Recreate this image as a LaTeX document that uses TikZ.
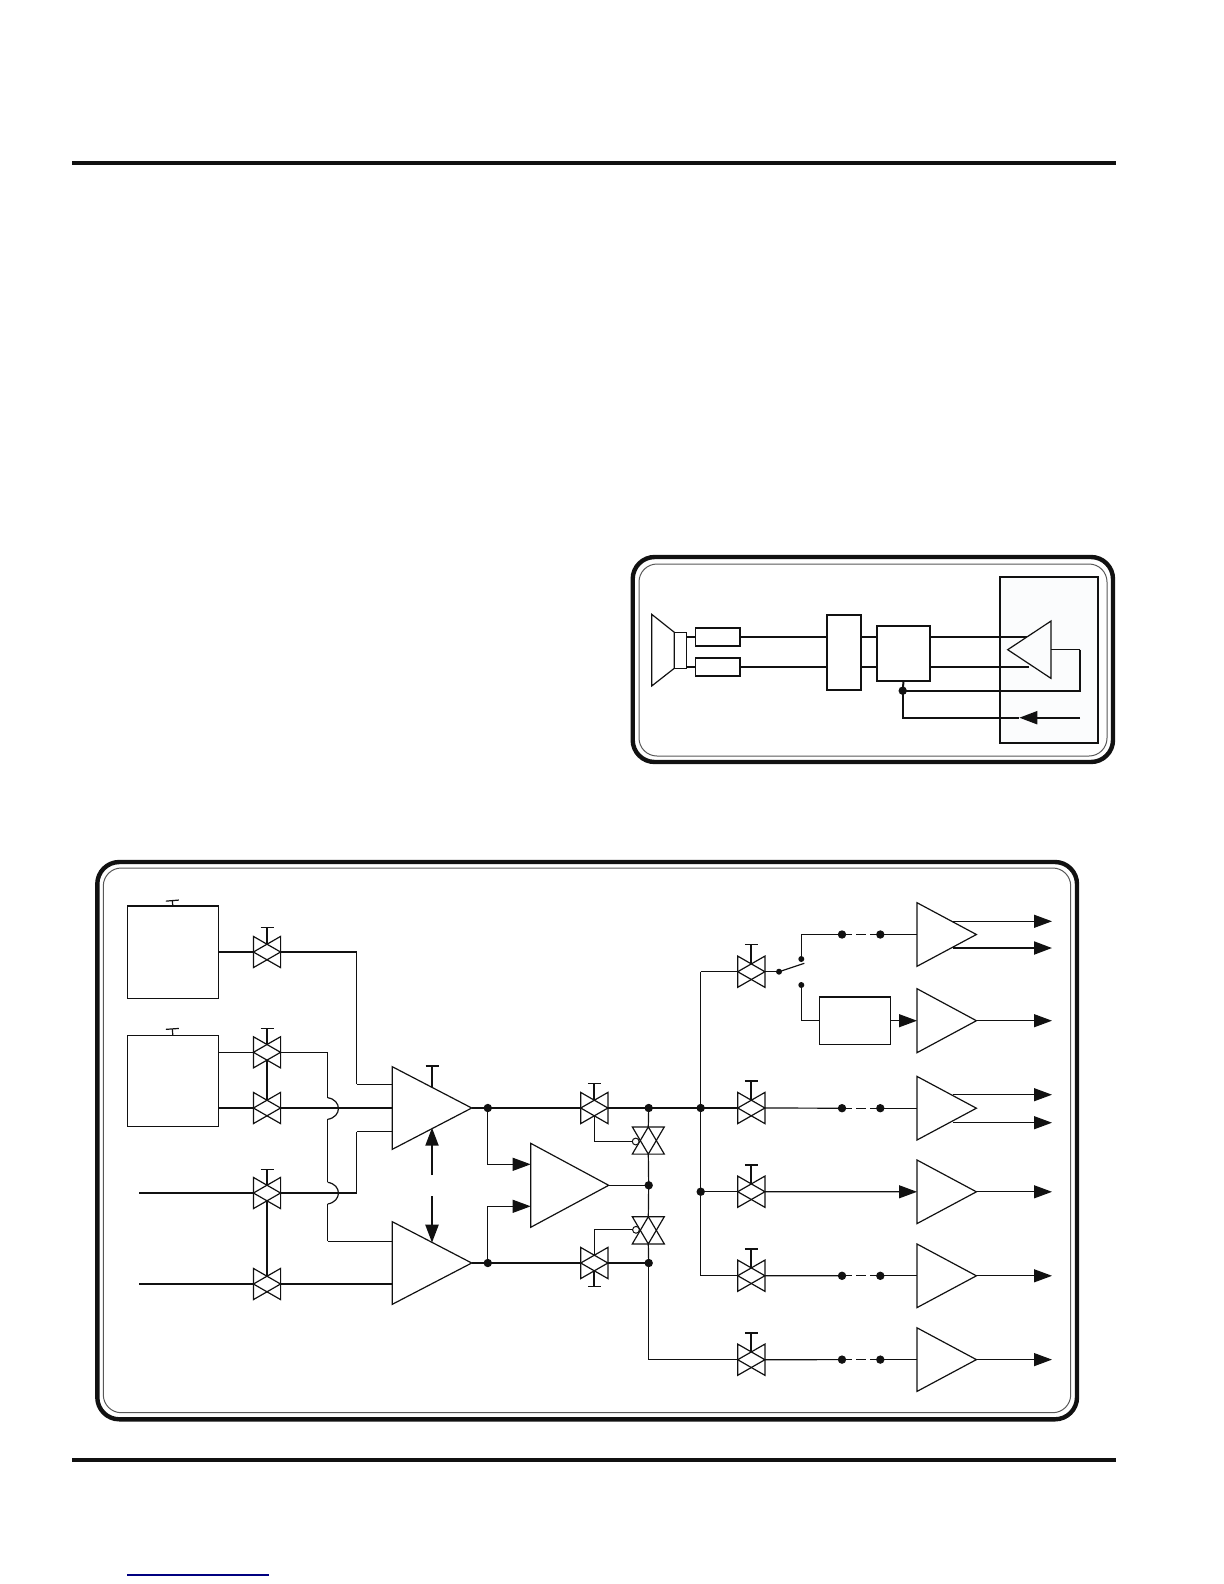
\documentclass[tikz,border=0pt]{standalone}
\usepackage{xcolor}
\usepackage{tikz}
\usetikzlibrary{arrows.meta}
\definecolor{inklight}{HTML}{FBFCFD}
\definecolor{inkline}{HTML}{111111}
\tikzset{
  wire/.style={draw=inkline,line width=.6pt},
  heavywire/.style={draw=inkline,line width=1pt},
  rule/.style={draw=inkline,line width=2pt},
  outerframe/.style={draw=inkline,line width=2.2pt,rounded corners=11pt},
  innerframe/.style={draw=inkline!70,line width=.5pt,rounded corners=9pt},
  shapebox/.style={minimum width=#1,inner sep=0pt,outer sep=0pt},
  block/.style={draw=inkline,line width=.65pt,inner sep=0pt,outer sep=0pt,fill=white},
  panelblock/.style={block,line width=.85pt},
  dot/.style={circle,fill=inkline,inner sep=0pt,outer sep=0pt,minimum size=4.2pt},
  smalldot/.style={circle,fill=inkline,inner sep=0pt,outer sep=0pt,minimum size=3pt},
  bubble/.style={circle,draw=inkline,fill=white,line width=.5pt,inner sep=0pt,outer sep=0pt,minimum size=3.4pt},
  headed/.style={-{Triangle[length=9pt,width=6.5pt]}},
  gatebar/.style={-{Bar[width=6.5pt,line width=.6pt]}},
  jumpdash/.style={dash pattern=on 4.75pt off 2.25pt}
}
\begin{document}
\begin{tikzpicture}[x=.5pt,y=-.5pt]
\useasboundingbox (0,0) rectangle (1224,1584);
\node[shapebox=1pt] (RuleTopA) at (72,162.6){}; \node[shapebox=1pt] (RuleTopB) at (1116,162.6){}; \draw[rule] (RuleTopA.center) -- (RuleTopB.center);
\node[shapebox=1pt] (RuleBotA) at (72,1460){}; \node[shapebox=1pt] (RuleBotB) at (1116,1460){}; \draw[rule] (RuleBotA.center) -- (RuleBotB.center);
\node[shapebox=1pt] (LinkA) at (127,1575){}; \node[shapebox=1pt] (LinkB) at (269,1575){}; \draw[draw=blue!50!black,line width=.6pt] (LinkA.center) -- (LinkB.center);
\draw[outerframe] (632.7,557) rectangle (1113,762);
\draw[innerframe] (639,564) rectangle (1107,756);
\draw[draw=inkline,line width=.9pt,fill=inklight] (1000,577) rectangle (1097.7,743);
\node[block,minimum width=6.2pt,minimum height=18pt] (Magnet) at (680.5,650.3){};
\draw[wire] (651.7,614.3) -- (Magnet.north west) -- (Magnet.south west) -- (651.7,686) -- cycle;
\node[panelblock,minimum width=22.2pt,minimum height=9pt] (ResA) at (717.8,637.3){};
\node[panelblock,minimum width=22.2pt,minimum height=9pt] (ResB) at (717.8,666.8){};
\node[panelblock,minimum width=17pt,minimum height=37.4pt] (BoxMid) at (843.7,652.6){};
\node[panelblock,minimum width=26.8pt,minimum height=27.5pt] (BoxAmp) at (903.5,653.7){};
\node[shapebox=21.6pt,minimum height=28.6pt] (SpkAmp) at (1029.3,649.7){};
\foreach \n in {ResA,ResB}\draw[heavywire] (\n -| Magnet.east) -- (\n.west);
\foreach \n in {ResA,ResB}\draw[heavywire] (\n.east) -- (\n -| BoxMid.west);
\foreach \n in {ResA,ResB}\draw[heavywire] (\n -| BoxMid.east) -- (\n -| BoxAmp.west);
\foreach \n in {ResA,ResB}\draw[heavywire] (\n -| BoxAmp.east) -- (\n -| SpkAmp.center);
\draw[wire,fill=inklight] (SpkAmp.north east) -- (SpkAmp.west) -- (SpkAmp.south east) -- cycle;
\node[dot] (DotS) at (902.7,690.7){};
\coordinate (SenseCorner) at (1080,649.7);
\coordinate (SenseEnd) at (1080,717.7);
\coordinate (SenseTip) at (1019.3,717.7);
\draw[wire] (SpkAmp.east) -- (SenseCorner);
\draw[heavywire] (SenseCorner) |- (DotS.center);
\draw[heavywire] (BoxAmp.south) -- (DotS.center);
\draw[heavywire] (DotS.center) |- (SenseTip);
\draw[heavywire,headed] (SenseEnd) -- (SenseTip);
\draw[outerframe] (97.3,862) rectangle (1077,1419.3);
\draw[innerframe] (103.3,868) rectangle (1070.7,1412.7);
\node[block,minimum width=45.5pt,minimum height=46.2pt] (BoxA) at (172.8,952.1){};
\node[block,minimum width=45.5pt,minimum height=45.5pt] (BoxB) at (172.8,1080.8){};
\node[block,minimum width=35.7pt,minimum height=23.7pt] (BoxC) at (855,1020.7){};
\foreach \n in {BoxA,BoxC}\draw[heavywire] (\n.north west) -- (\n.north east);
\coordinate (BoxATop) at (172.3,900); \coordinate (BoxBTop) at (172.3,1028.3);
\draw[wire,gatebar] (BoxA.north) -- (BoxATop);
\draw[wire,gatebar] (BoxB.north) -- (BoxBTop);
\foreach \n/\x/\y in {ValveA/267/952,ValveB/267/1052.3,ValveC/267/1108,ValveD/267/1193,ValveE/267/1284,ValveF/594.3/1108,ValveG/594.3/1263,ValveH/751.3/971.7,ValveI/751.3/1108,ValveJ/751.3/1191.7,ValveK/751.3/1275.7,ValveL/751.3/1359.7}{
\node[shapebox=13.6pt,minimum height=15.6pt] (\n) at (\x,\y){};
\coordinate (\n Top) at (\x,\y-7.8); \coordinate (\n Bot) at (\x,\y+7.8);
\draw[wire] (\n.north west) -- (\n.east) -- (\n.south west) -- cycle;
\draw[wire] (\n.north east) -- (\n.west) -- (\n.south east) -- cycle;
}
\foreach \n/\w/\l in {ValveA/.6/17,ValveB/.6/17,ValveD/.6/16,ValveF/1/17,ValveH/1/19.7,ValveI/1/19.9,ValveJ/1/19.6,ValveK/1/19.6,ValveL/1/19.6}\draw[line width=\w pt,draw=inkline,gatebar] (\n Top) -- ++(0,-\l);
\draw[line width=1pt,draw=inkline,gatebar] (ValveGBot) -- ++(0,16);
\draw[wire] (ValveBBot) -- (ValveCTop);
\draw[wire] (ValveDBot) -- (ValveETop);
\foreach \n/\x/\y/\w/\h in {AmpA/392.3/1108/39.7/41.3,AmpB/392.3/1263/39.7/41.3,AmpC/530.7/1185.3/39/42,AmpH/917/934.5/29.7/31.8,AmpX/917/1020.7/29.7/32,AmpI/917/1108.2/29.7/31.8,AmpJ/917/1191.8/29.7/31.8,AmpK/917/1275.8/29.7/31.8,AmpL/917/1359.6/29.7/31.8}{
\node[shapebox=\w pt,minimum height=\h pt,anchor=west] (\n) at (\x,\y){};
\draw[wire] (\n.north west) -- (\n.east) -- (\n.south west) -- cycle;
}
\coordinate (InFree) at (139.3,0);
\coordinate (TapA) at (356.7,1084.3); \coordinate (TapB) at (356.7,1131.7);
\draw[wire] (BoxA.east |- ValveA) -- (ValveA.west);
\draw[wire] (ValveA.east) -| (TapA); \draw[wire] (TapA) -- (TapA -| AmpA.west);
\draw[wire] (BoxB.east |- ValveB) -- (ValveB.west);
\draw[wire] (BoxB.east |- ValveC) -- (ValveC.west);
\draw[wire] (ValveC.east) -- (ValveC -| AmpA.west);
\draw[wire] (InFree |- ValveD) -- (ValveD.west);
\draw[wire] (InFree |- ValveE) -- (ValveE.west);
\draw[wire] (ValveE.east) -- (ValveE -| AmpB.west);
\draw[wire] (ValveD.east) -| (TapB); \draw[wire] (TapB) -- (TapB -| AmpA.west);
\coordinate (HopAIn) at (327.7,1097.7); \coordinate (HopAOut) at (327.7,1119.3);
\coordinate (HopBIn) at (327.7,1182.3); \coordinate (HopBOut) at (327.7,1204);
\coordinate (HopEnd) at (327.7,1241.3);
\draw[wire] (ValveB.east) -| (HopAIn);
\draw[wire] (HopAIn) .. controls (342,1100) and (342,1117) .. (HopAOut);
\draw[wire] (HopAOut) -- (HopBIn);
\draw[wire] (HopBIn) .. controls (342,1184.5) and (342,1201.5) .. (HopBOut);
\draw[wire] (HopBOut) -- (HopEnd);
\draw[wire] (HopEnd) -- (HopEnd -| AmpB.west);
\coordinate (AmpAGate) at (432,1087.3); \coordinate (AmpABar) at (432,1065.3);
\draw[heavywire,gatebar] (AmpAGate) -- (AmpABar);
\coordinate (HoldUpA) at (432,1175); \coordinate (HoldUpB) at (432,1127.7);
\coordinate (HoldDnA) at (432,1196); \coordinate (HoldDnB) at (432,1242.7);
\draw[line width=1.1pt,draw=inkline,headed] (HoldUpA) -- (HoldUpB);
\draw[line width=1.1pt,draw=inkline,headed] (HoldDnA) -- (HoldDnB);
\foreach \n/\x/\y in {DotA/487.8/1108,DotB/487.8/1263,DotC/648.7/1108,DotD/648.7/1185.3,DotE/648.7/1263,DotF/700.7/1108,DotG/700.7/1191.7}\node[dot] (\n) at (\x,\y){};
\draw[wire] (AmpA.east) -- (DotA.center);
\draw[wire] (AmpB.east) -- (DotB.center);
\draw[wire] (DotA.center) -- (ValveF.west);
\draw[wire] (DotB.center) -- (ValveG.west);
\draw[wire] (ValveF.east) -- (DotC.center);
\draw[wire] (ValveG.east) -- (DotE.center);
\draw[wire] (DotC.center) -- (DotF.center);
\draw[wire] (DotF.center) -- (ValveI.west);
\draw[wire] (DotG.center) -- (ValveJ.west);
\coordinate (AmpCUp) at (530.7,1164.3); \coordinate (AmpCDn) at (530.7,1206.3);
\draw[wire,headed] (DotA.center) |- (AmpCUp);
\draw[wire,headed] (DotB.center) |- (AmpCDn);
\draw[wire] (AmpC.east) -- (DotD.center);
\foreach \n/\y in {GateA/1140.5,GateB/1230.3}{
\node[shapebox=16pt,minimum height=13.6pt] (\n) at (648.3,\y){};
\draw[wire] (\n.north west) -- (\n.north east) -- (\n.south) -- cycle;
\draw[wire] (\n.south west) -- (\n.south east) -- (\n.north) -- cycle;
}
\draw[wire] (DotC.center) -- (GateA.north);
\draw[wire] (GateA.south) -- (DotD.center);
\draw[wire] (DotD.center) -- (GateB.north);
\draw[wire] (GateB.south) -- (DotE.center);
\node[bubble] (BubbleA) at (635.7,1141.5){};
\node[bubble] (BubbleB) at (636,1229.8){};
\draw[wire] (ValveFBot) |- (BubbleA.west);
\draw[wire] (ValveGTop) |- (BubbleB.west);
\draw[wire] (DotE.center) |- (ValveL.west);
\coordinate (BusTop) at (700.7,971.7); \coordinate (BusBot) at (700.7,1275.7);
\draw[wire] (BusTop) -- (BusBot);
\draw[wire] (BusTop) -- (ValveH.west);
\draw[wire] (BusBot) -- (ValveK.west);
\foreach \n/\y in {H/934.5,I/1108.2,K/1275.8,L/1359.6}{
\node[dot] (Dash\n A) at (842,\y){};
\node[dot] (Dash\n B) at (880.3,\y){};
\draw[wire,jumpdash] (Dash\n A.center) -- (Dash\n B.center);
\draw[wire] (Dash\n B.center) -- (Amp\n.west);
}
\draw[wire] (ValveI.east) -- (DashIA.center);
\draw[wire] (ValveK.east) -- (DashKA.center);
\draw[wire] (ValveL.east) -- (DashLA.center);
\node[smalldot] (SwitchPole) at (779,971.7){};
\node[smalldot] (SwitchUp) at (801.3,959){};
\node[smalldot] (SwitchDn) at (801.3,985){};
\coordinate (SwitchArm) at (804.3,963.3);
\draw[wire] (ValveH.east) -- (SwitchPole.center);
\draw[wire] (SwitchPole.center) -- (SwitchArm);
\draw[wire] (SwitchUp.center) |- (DashHA.center);
\draw[wire] (SwitchDn.center) |- (BoxC.west);
\draw[wire,headed] (BoxC.east) -- (AmpX.west);
\draw[wire,headed] (ValveJ.east) -- (AmpJ.west);
\coordinate (OutEdge) at (1052,0);
\foreach \n in {AmpX,AmpJ,AmpK,AmpL}\draw[wire,headed] (\n.east) -- (\n.east -| OutEdge);
\coordinate (AmpHUp) at (953,921.3); \coordinate (AmpHDn) at (953,948);
\coordinate (AmpIUp) at (953,1094.7); \coordinate (AmpIDn) at (953,1122.7);
\draw[wire,headed] (AmpHUp) -- (AmpHUp -| OutEdge);
\draw[heavywire,headed] (AmpHDn) -- (AmpHDn -| OutEdge);
\draw[wire,headed] (AmpIUp) -- (AmpIUp -| OutEdge);
\draw[wire,headed] (AmpIDn) -- (AmpIDn -| OutEdge);
\end{tikzpicture}
\end{document}
